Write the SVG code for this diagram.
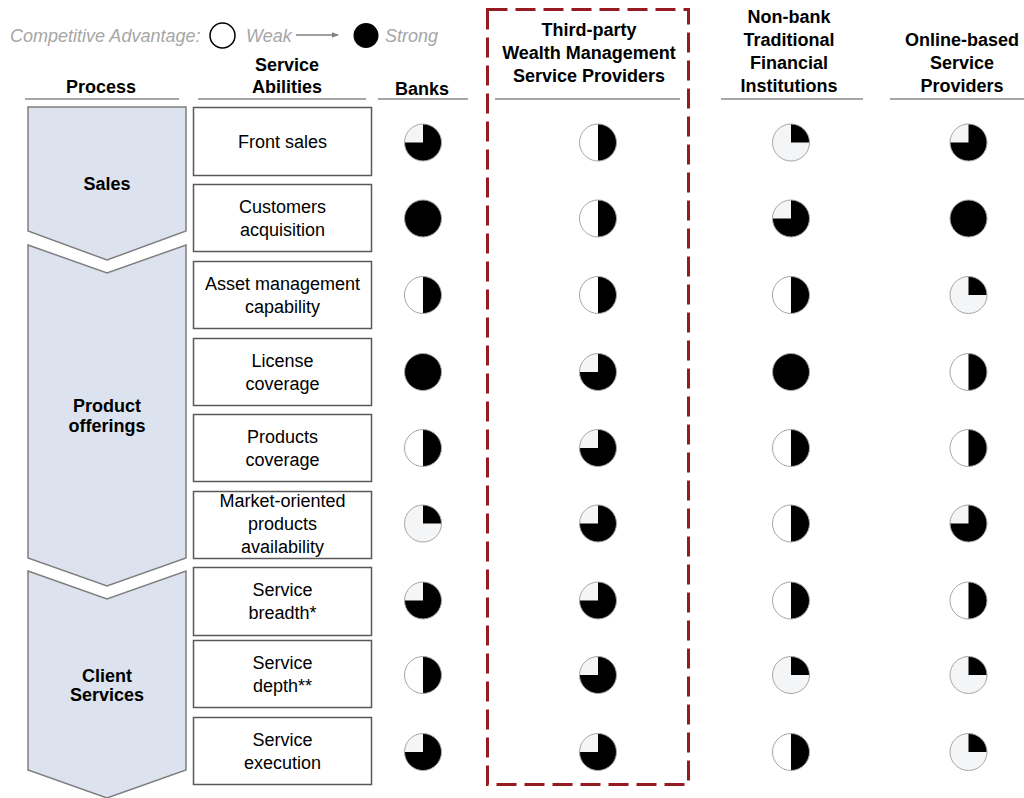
<svg xmlns="http://www.w3.org/2000/svg" xmlns:xlink="http://www.w3.org/1999/xlink" width="1024" height="798" viewBox="0 0 1024 798">
<style>
text{font-family:"Liberation Sans",Arial,sans-serif;}
.leg{font-size:18px;font-style:italic;fill:#a6a6a6;}
.hdr{font-size:18px;font-weight:bold;fill:#000;text-anchor:middle;}
.stage{font-size:18px;font-weight:bold;fill:#000;text-anchor:middle;}
.lbl{font-size:18px;fill:#000;text-anchor:middle;}
.hline{stroke:#a6a6a6;stroke-width:2;fill:none;}
.chev{fill:#dce3ee;stroke:#7f7f7f;stroke-width:1.5;}
.box{fill:#fff;stroke:#595959;stroke-width:1.5;}
.dash{fill:none;stroke:#961b20;stroke-width:3;stroke-dasharray:20 8;}
</style>
<defs>
<marker id="ah" viewBox="0 0 10 10" refX="9" refY="5" markerWidth="7" markerHeight="7" orient="auto" markerUnits="userSpaceOnUse">
<path d="M0,1 L10,5 L0,9 Z" fill="#808080"/>
</marker>
<g id="b25"><circle r="18.5" fill="#f4f5f7"/><path d="M0,0V-18.5A18.5,18.5 0 0 1 18.5,0Z" fill="#000"/><circle r="18.5" fill="none" stroke="#a6a6a6" stroke-width="1"/></g>
<g id="b50"><circle r="18.5" fill="#fff"/><path d="M0,-18.5A18.5,18.5 0 0 1 0,18.5Z" fill="#000"/><circle r="18.5" fill="none" stroke="#a6a6a6" stroke-width="1"/></g>
<g id="b75"><circle r="18.5" fill="#f4f5f7"/><path d="M0,0V-18.5A18.5,18.5 0 1 1 -18.5,0Z" fill="#000"/><circle r="18.5" fill="none" stroke="#a6a6a6" stroke-width="1"/></g>
<g id="b100"><circle r="18.5" fill="#000"/><circle r="18.5" fill="none" stroke="#a6a6a6" stroke-width="1"/></g>
</defs>
<rect width="1024" height="798" fill="#fff"/>

<g id="legend">
<text class="leg" x="10" y="42">Competitive Advantage:</text>
<circle cx="222.5" cy="35.5" r="12.5" fill="#fff" stroke="#000" stroke-width="1.5"/>
<text class="leg" x="246" y="42">Weak</text>
<circle cx="366" cy="35.5" r="12.5" fill="#000"/>
<text class="leg" x="385" y="42">Strong</text>
</g>
<g id="connectors">
<line x1="296" y1="35" x2="338" y2="35" stroke="#808080" stroke-width="1.5" marker-end="url(#ah)"/>
</g>

<g id="headers">
<text class="hdr" x="101" y="93">Process</text>
<line class="hline" x1="25" y1="99" x2="179" y2="99"/>
<text class="hdr" x="287" y="71">Service</text>
<text class="hdr" x="287" y="93">Abilities</text>
<line class="hline" x1="198" y1="99" x2="366" y2="99"/>
<text class="hdr" x="422" y="95">Banks</text>
<line class="hline" x1="378" y1="99" x2="468" y2="99"/>
<text class="hdr" x="589" y="36">Third-party</text>
<text class="hdr" x="589" y="59">Wealth Management</text>
<text class="hdr" x="589" y="82">Service Providers</text>
<line class="hline" x1="495" y1="99" x2="680" y2="99"/>
<text class="hdr" x="789" y="23">Non-bank</text>
<text class="hdr" x="789" y="46">Traditional</text>
<text class="hdr" x="789" y="69">Financial</text>
<text class="hdr" x="789" y="92">Institutions</text>
<line class="hline" x1="721" y1="99" x2="863" y2="99"/>
<text class="hdr" x="962" y="46">Online-based</text>
<text class="hdr" x="962" y="69">Service</text>
<text class="hdr" x="962" y="92">Providers</text>
<line class="hline" x1="890" y1="99" x2="1024" y2="99"/>
</g>

<g id="highlight">
<rect class="dash" x="487.5" y="9.5" width="201" height="775"/>
</g>

<g id="stage-sales">
<polygon class="chev" points="28,107 186,107 186,231 107,260 28,231"/>
<text class="stage" x="107" y="190">Sales</text>
</g>
<g id="stage-product">
<polygon class="chev" points="28,245 107,273 186,245 186,558 107,586 28,558"/>
<text class="stage" x="107" y="412">Product</text>
<text class="stage" x="107" y="432">offerings</text>
</g>
<g id="stage-client">
<polygon class="chev" points="28,571 107,599 186,571 186,770 107,798 28,770"/>
<text class="stage" x="107" y="682">Client</text>
<text class="stage" x="107" y="701">Services</text>
</g>

<g id="ab-front-sales"><rect class="box" x="193.5" y="107.5" width="178" height="68"/><text class="lbl" x="282.5" y="148">Front sales</text></g>
<g id="ab-customers"><rect class="box" x="193.5" y="184.5" width="178" height="67"/><text class="lbl" x="282.5" y="213">Customers</text><text class="lbl" x="282.5" y="236">acquisition</text></g>
<g id="ab-asset"><rect class="box" x="193.5" y="261.5" width="178" height="67"/><text class="lbl" x="282.5" y="290">Asset management</text><text class="lbl" x="282.5" y="313">capability</text></g>
<g id="ab-license"><rect class="box" x="193.5" y="338.5" width="178" height="67"/><text class="lbl" x="282.5" y="367">License</text><text class="lbl" x="282.5" y="390">coverage</text></g>
<g id="ab-products"><rect class="box" x="193.5" y="414.5" width="178" height="67"/><text class="lbl" x="282.5" y="443">Products</text><text class="lbl" x="282.5" y="466">coverage</text></g>
<g id="ab-market"><rect class="box" x="193.5" y="491.5" width="178" height="67"/><text class="lbl" x="282.5" y="507">Market-oriented</text><text class="lbl" x="282.5" y="530">products</text><text class="lbl" x="282.5" y="553">availability</text></g>
<g id="ab-breadth"><rect class="box" x="193.5" y="567.5" width="178" height="68"/><text class="lbl" x="282.5" y="596">Service</text><text class="lbl" x="282.5" y="619">breadth*</text></g>
<g id="ab-depth"><rect class="box" x="193.5" y="640.5" width="178" height="67"/><text class="lbl" x="282.5" y="669">Service</text><text class="lbl" x="282.5" y="692">depth**</text></g>
<g id="ab-execution"><rect class="box" x="193.5" y="717.5" width="178" height="67"/><text class="lbl" x="282.5" y="746">Service</text><text class="lbl" x="282.5" y="769">execution</text></g>

<g id="col-banks">
<use xlink:href="#b75" x="423" y="142.5"/>
<use xlink:href="#b100" x="423" y="218.5"/>
<use xlink:href="#b50" x="423" y="295"/>
<use xlink:href="#b100" x="423" y="372"/>
<use xlink:href="#b50" x="423" y="448"/>
<use xlink:href="#b25" x="423" y="523.5"/>
<use xlink:href="#b75" x="423" y="600.5"/>
<use xlink:href="#b50" x="423" y="675"/>
<use xlink:href="#b75" x="423" y="752"/>
</g>
<g id="col-thirdparty">
<use xlink:href="#b50" x="598" y="142.5"/>
<use xlink:href="#b50" x="598" y="218.5"/>
<use xlink:href="#b50" x="598" y="295"/>
<use xlink:href="#b75" x="598" y="372"/>
<use xlink:href="#b75" x="598" y="448"/>
<use xlink:href="#b75" x="598" y="523.5"/>
<use xlink:href="#b75" x="598" y="600.5"/>
<use xlink:href="#b75" x="598" y="675"/>
<use xlink:href="#b75" x="598" y="752"/>
</g>
<g id="col-nonbank">
<use xlink:href="#b25" x="791" y="142.5"/>
<use xlink:href="#b75" x="791" y="218.5"/>
<use xlink:href="#b50" x="791" y="295"/>
<use xlink:href="#b100" x="791" y="372"/>
<use xlink:href="#b50" x="791" y="448"/>
<use xlink:href="#b50" x="791" y="523.5"/>
<use xlink:href="#b50" x="791" y="600.5"/>
<use xlink:href="#b25" x="791" y="675"/>
<use xlink:href="#b50" x="791" y="752"/>
</g>
<g id="col-online">
<use xlink:href="#b75" x="968.5" y="142.5"/>
<use xlink:href="#b100" x="968.5" y="218.5"/>
<use xlink:href="#b25" x="968.5" y="295"/>
<use xlink:href="#b50" x="968.5" y="372"/>
<use xlink:href="#b50" x="968.5" y="448"/>
<use xlink:href="#b75" x="968.5" y="523.5"/>
<use xlink:href="#b50" x="968.5" y="600.5"/>
<use xlink:href="#b25" x="968.5" y="675"/>
<use xlink:href="#b25" x="968.5" y="752"/>
</g>
</svg>
